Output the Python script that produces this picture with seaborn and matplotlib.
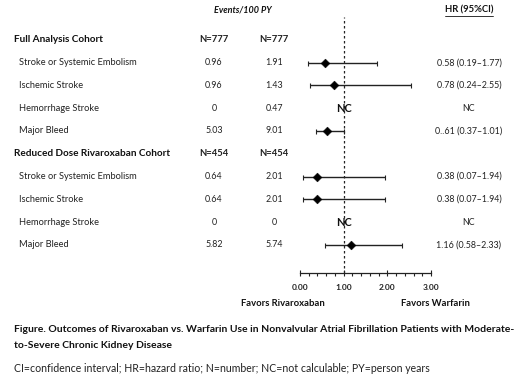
import matplotlib
matplotlib.use("Agg")
import matplotlib.pyplot as plt
from matplotlib.transforms import blended_transform_factory
from matplotlib.ticker import MultipleLocator
import seaborn as sns
import pandas as pd
import numpy as np

# ---- data ----
row_labels = ["Full Analysis Cohort", "Stroke or Systemic Embolism", "Ischemic Stroke",
              "Hemorrhage Stroke", "Major Bleed",
              "Reduced Dose Rivaroxaban Cohort", "Stroke or Systemic Embolism",
              "Ischemic Stroke", "Hemorrhage Stroke", "Major Bleed"]
is_header = [True, False, False, False, False, True, False, False, False, False]
riva_rate = ["N=777", "0.96", "0.96", "0", "5.03", "N=454", "0.64", "0.64", "0", "5.82"]
warf_rate = ["N=777", "1.91", "1.43", "0.47", "9.01", "N=454", "2.01", "2.01", "0", "5.74"]
hr_text = ["", "0.58 (0.19\u20131.77)", "0.78 (0.24\u20132.55)", "NC", "0..61 (0.37\u20131.01)",
           "", "0.38 (0.07\u20131.94)", "0.38 (0.07\u20131.94)", "NC", "1.16 (0.58\u20132.33)"]
hr = [np.nan, 0.58, 0.78, np.nan, 0.61, np.nan, 0.38, 0.38, np.nan, 1.16]
lo = [np.nan, 0.19, 0.24, np.nan, 0.37, np.nan, 0.07, 0.07, np.nan, 0.58]
hi = [np.nan, 1.77, 2.55, np.nan, 1.01, np.nan, 1.94, 1.94, np.nan, 2.33]
nc_rows = [3, 8]
xticks = [0, 1, 2, 3]
xtick_labels = ["0.00", "1.00", "2.00", "3.00"]

sns.set_theme(style="white")
plt.rcParams["font.family"] = ["Lato", "DejaVu Sans"]

W, H = 520, 383
fig = plt.figure(figsize=(W / 100, H / 100), dpi=100)
fig.patch.set_facecolor("white")

def fx(px):
    return px / W

def fy(py):
    return 1 - py / H

# forest axes: x 0..3 at px 300..431 ; y pixel 17..273
ax = fig.add_axes([fx(300), fy(273), (431 - 300) / W, (273 - 17) / H])
ax.set_facecolor("none")

df = pd.DataFrame({"row": np.arange(len(row_labels)), "hr": hr, "lo": lo, "hi": hi})
d = df.dropna()
ax.errorbar(d["hr"], d["row"], xerr=[d["hr"] - d["lo"], d["hi"] - d["hr"]],
            fmt="none", ecolor="#222222", elinewidth=1.0, capsize=1.8, capthick=0.8)
sns.scatterplot(data=d, x="hr", y="row", marker="D", s=20, color="black",
                edgecolor="black", ax=ax, zorder=5, legend=False)
ax.axvline(1, color="#222222", ls=(0, (2, 2)), lw=0.9)
for r in nc_rows:
    ax.text(1, r, "NC", ha="center", va="center", fontsize=8, fontweight="bold", color="#111111")

ax.set_xlim(0, 3)
ax.set_ylim(10.23, -1.0)
ax.set_xticks(xticks)
ax.set_xticklabels(xtick_labels, fontsize=6, fontweight="bold", color="#222222")
ax.xaxis.set_minor_locator(MultipleLocator(0.2))
ax.tick_params(axis="x", which="major", direction="inout", length=4, width=0.8, pad=6, color="#222222", bottom=True)
ax.tick_params(axis="x", which="minor", direction="out", length=2, width=0.8, color="#222222", bottom=True)
ax.set_yticks([])
ax.set_xlabel("")
ax.set_ylabel("")
for s in ["top", "right", "left"]:
    ax.spines[s].set_visible(False)
ax.spines["bottom"].set_color("#222222")
ax.spines["bottom"].set_linewidth(0.9)

tr = blended_transform_factory(fig.transFigure, ax.transData)
fs_lab = 6.7
fs_num = 6.4
for i, lab in enumerate(row_labels):
    if is_header[i]:
        ax.text(fx(14), i, lab, transform=tr, ha="left", va="center", fontsize=7.2,
                fontweight="bold", color="#111111")
    else:
        ax.text(fx(19), i, lab, transform=tr, ha="left", va="center", fontsize=fs_lab, color="#222222")
    bold = is_header[i]
    ax.text(fx(214), i, riva_rate[i], transform=tr, ha="center", va="center",
            fontsize=6.8 if bold else fs_num, fontweight="bold" if bold else "normal", color="#222222")
    ax.text(fx(274), i, warf_rate[i], transform=tr, ha="center", va="center",
            fontsize=6.8 if bold else fs_num, fontweight="bold" if bold else "normal", color="#222222")
    if hr_text[i]:
        ax.text(fx(469), i, hr_text[i], transform=tr, ha="center", va="center",
                fontsize=fs_num, color="#222222")

# headers
fig.text(fx(243), fy(10), "Events/100 PY", ha="center", va="center", fontsize=6.5,
         fontweight="bold", fontstyle="italic", color="#111111")
t = fig.text(fx(469), fy(10), "HR (95%CI)", ha="center", va="center", fontsize=6.8,
             fontweight="bold", color="#111111")
fig.canvas.draw()
bb = t.get_window_extent(fig.canvas.get_renderer())
fig.add_artist(plt.Line2D([bb.x0 / W, bb.x1 / W], [(bb.y0 - 1) / H, (bb.y0 - 1) / H],
                          transform=fig.transFigure, color="#111111", lw=0.6))

fig.text(fx(283), fy(304), "Favors Rivaroxaban", ha="center", va="center", fontsize=6.8,
         fontweight="bold", color="#111111")
fig.text(fx(435), fy(304), "Favors Warfarin", ha="center", va="center", fontsize=6.8,
         fontweight="bold", color="#111111")

fig.text(fx(14), fy(330), "Figure. Outcomes of Rivaroxaban vs. Warfarin Use in Nonvalvular Atrial Fibrillation Patients with Moderate-",
         ha="left", va="center", fontsize=7.5, fontweight="bold", color="#111111")
fig.text(fx(14), fy(346), "to-Severe Chronic Kidney Disease",
         ha="left", va="center", fontsize=7.5, fontweight="bold", color="#111111")
fig.text(fx(14), fy(368), "CI=confidence interval; HR=hazard ratio; N=number; NC=not calculable; PY=person years",
         ha="left", va="center", fontsize=7.6, color="#222222")

fig.savefig("out.png", dpi=100, facecolor="white")
